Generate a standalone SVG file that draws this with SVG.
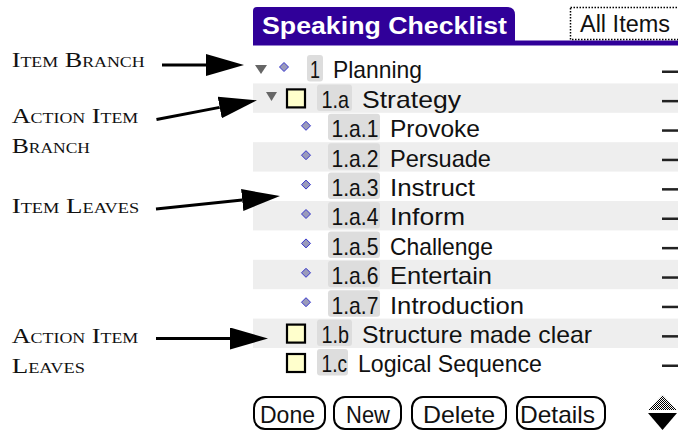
<svg xmlns="http://www.w3.org/2000/svg" width="678" height="431" viewBox="0 0 678 431">
<style>
.lbl{font-family:"Liberation Serif","Times New Roman",serif;font-size:22px;font-variant:small-caps;fill:#111}
.t{font-family:"Liberation Sans",Arial,sans-serif;font-size:24px;fill:#111}
.band{fill:#eeeeee}
.badge{fill:#dddddd}
.dash{fill:#222}
.dia{fill:#9a9abb;stroke:#3535cc;stroke-width:1}
.chk{fill:#ffffcc;stroke:#000;stroke-width:2.2}
.tri{fill:#666}
.btn{fill:#fff;stroke:#000;stroke-width:2}
.conn{fill:none;stroke:#000;stroke-width:3}
</style>
<defs>
<marker id="ah" markerUnits="userSpaceOnUse" markerWidth="40" markerHeight="24" refX="0" refY="11" orient="auto">
<path d="M0,0 L38,11 L0,22 Z" fill="#000"/>
</marker>
<pattern id="dither" width="2" height="2" patternUnits="userSpaceOnUse">
<rect width="2" height="2" fill="#fff"/>
<rect width="1" height="1" fill="#000"/>
<rect x="1" y="1" width="1" height="1" fill="#000"/>
</pattern>
</defs>
<rect width="678" height="431" fill="#fff"/>

<g id="header">
<path d="M253,41 L253,11 Q253,7 257,7 L507,7 Q515,7 515,15 L515,41 Z" fill="#300099"/>
<rect x="253" y="40.5" width="425" height="5" fill="#300099"/>
<text x="262" y="33.5" style="font-family:'Liberation Sans',Arial,sans-serif;font-size:23px;font-weight:bold;fill:#fff" textLength="245" lengthAdjust="spacingAndGlyphs">Speaking Checklist</text>
</g>
<g id="all-items">
<rect x="570.5" y="7.5" width="110" height="32" fill="#fff" stroke="#000" stroke-width="1.5" stroke-dasharray="1.5 1.5"/>
<text x="580" y="32" class="t" style="font-size:23px" textLength="90" lengthAdjust="spacingAndGlyphs">All Items</text>
</g>

<g id="bands">
<rect class="band" x="253" y="83.4" width="425" height="29.4"/>
<rect class="band" x="253" y="142.2" width="425" height="29.4"/>
<rect class="band" x="253" y="201" width="425" height="29.4"/>
<rect class="band" x="253" y="259.8" width="425" height="29.4"/>
<rect class="band" x="253" y="318.6" width="425" height="29.4"/>
</g>

<g id="row-1">
<path class="tri" d="M255,65 L267,65 L261,74 Z"/>
<path class="dia" d="M284,62.5 L288.5,67 L284,71.5 L279.5,67 Z"/>
<rect class="badge" x="307" y="55" width="16" height="26.5" rx="3"/>
<text class="t" x="310" y="78.3" textLength="10" lengthAdjust="spacingAndGlyphs">1</text>
<text class="t" x="333" y="78.3" textLength="89" lengthAdjust="spacingAndGlyphs">Planning</text>
<rect class="dash" x="662" y="70.5" width="16" height="2.5"/>
</g>
<g id="row-1a">
<path class="tri" d="M266,92 L277,92 L271.5,101 Z"/>
<rect class="chk" x="287" y="89.4" width="18" height="18"/>
<rect class="badge" x="317" y="84.4" width="35" height="26.5" rx="3"/>
<text class="t" x="321.5" y="107.7" textLength="27.5" lengthAdjust="spacingAndGlyphs">1.a</text>
<text class="t" x="362" y="107.7" textLength="99" lengthAdjust="spacingAndGlyphs">Strategy</text>
<rect class="dash" x="662" y="99.9" width="16" height="2.5"/>
</g>
<g id="row-1a1">
<path class="dia" d="M306,121.3 L310.5,125.8 L306,130.3 L301.5,125.8 Z"/>
<rect class="badge" x="328" y="113.8" width="52" height="26.5" rx="3"/>
<text class="t" x="331.5" y="137.1" textLength="47" lengthAdjust="spacingAndGlyphs">1.a.1</text>
<text class="t" x="390" y="137.1" textLength="90" lengthAdjust="spacingAndGlyphs">Provoke</text>
<rect class="dash" x="662" y="129.3" width="16" height="2.5"/>
</g>
<g id="row-1a2">
<path class="dia" d="M306,150.7 L310.5,155.2 L306,159.7 L301.5,155.2 Z"/>
<rect class="badge" x="328" y="143.2" width="52" height="26.5" rx="3"/>
<text class="t" x="331.5" y="166.5" textLength="47" lengthAdjust="spacingAndGlyphs">1.a.2</text>
<text class="t" x="390" y="166.5" textLength="101" lengthAdjust="spacingAndGlyphs">Persuade</text>
<rect class="dash" x="662" y="158.7" width="16" height="2.5"/>
</g>
<g id="row-1a3">
<path class="dia" d="M306,180.1 L310.5,184.6 L306,189.1 L301.5,184.6 Z"/>
<rect class="badge" x="328" y="172.6" width="52" height="26.5" rx="3"/>
<text class="t" x="331.5" y="195.9" textLength="47" lengthAdjust="spacingAndGlyphs">1.a.3</text>
<text class="t" x="390" y="195.9" textLength="85" lengthAdjust="spacingAndGlyphs">Instruct</text>
<rect class="dash" x="662" y="188.1" width="16" height="2.5"/>
</g>
<g id="row-1a4">
<path class="dia" d="M306,209.5 L310.5,214 L306,218.5 L301.5,214 Z"/>
<rect class="badge" x="328" y="202" width="52" height="26.5" rx="3"/>
<text class="t" x="331.5" y="225.3" textLength="47" lengthAdjust="spacingAndGlyphs">1.a.4</text>
<text class="t" x="390" y="225.3" textLength="75" lengthAdjust="spacingAndGlyphs">Inform</text>
<rect class="dash" x="662" y="217.5" width="16" height="2.5"/>
</g>
<g id="row-1a5">
<path class="dia" d="M306,238.9 L310.5,243.4 L306,247.9 L301.5,243.4 Z"/>
<rect class="badge" x="328" y="231.4" width="52" height="26.5" rx="3"/>
<text class="t" x="331.5" y="254.7" textLength="47" lengthAdjust="spacingAndGlyphs">1.a.5</text>
<text class="t" x="390" y="254.7" textLength="103" lengthAdjust="spacingAndGlyphs">Challenge</text>
<rect class="dash" x="662" y="246.9" width="16" height="2.5"/>
</g>
<g id="row-1a6">
<path class="dia" d="M306,268.3 L310.5,272.8 L306,277.3 L301.5,272.8 Z"/>
<rect class="badge" x="328" y="260.8" width="52" height="26.5" rx="3"/>
<text class="t" x="331.5" y="284.1" textLength="47" lengthAdjust="spacingAndGlyphs">1.a.6</text>
<text class="t" x="390" y="284.1" textLength="102" lengthAdjust="spacingAndGlyphs">Entertain</text>
<rect class="dash" x="662" y="276.3" width="16" height="2.5"/>
</g>
<g id="row-1a7">
<path class="dia" d="M306,297.7 L310.5,302.2 L306,306.7 L301.5,302.2 Z"/>
<rect class="badge" x="328" y="290.2" width="52" height="26.5" rx="3"/>
<text class="t" x="331.5" y="313.5" textLength="47" lengthAdjust="spacingAndGlyphs">1.a.7</text>
<text class="t" x="390" y="313.5" textLength="134" lengthAdjust="spacingAndGlyphs">Introduction</text>
<rect class="dash" x="662" y="305.7" width="16" height="2.5"/>
</g>
<g id="row-1b">
<rect class="chk" x="287" y="324.6" width="18" height="18"/>
<rect class="badge" x="317" y="319.6" width="35" height="26.5" rx="3"/>
<text class="t" x="321.5" y="342.9" textLength="27.5" lengthAdjust="spacingAndGlyphs">1.b</text>
<text class="t" x="362" y="342.9" textLength="230" lengthAdjust="spacingAndGlyphs">Structure made clear</text>
<rect class="dash" x="662" y="335.1" width="16" height="2.5"/>
</g>
<g id="row-1c">
<rect class="chk" x="287" y="354" width="18" height="18"/>
<rect class="badge" x="317" y="349" width="31" height="26.5" rx="3"/>
<text class="t" x="321.5" y="372.3" textLength="25.5" lengthAdjust="spacingAndGlyphs">1.c</text>
<text class="t" x="358" y="372.3" textLength="184" lengthAdjust="spacingAndGlyphs">Logical Sequence</text>
<rect class="dash" x="662" y="364.5" width="16" height="2.5"/>
</g>

<g id="buttons">
<rect class="btn" x="254" y="397" width="71" height="32" rx="11"/>
<text class="t" x="260" y="423" textLength="55" lengthAdjust="spacingAndGlyphs">Done</text>
<rect class="btn" x="334" y="397" width="67" height="32" rx="11"/>
<text class="t" x="346" y="423" textLength="44" lengthAdjust="spacingAndGlyphs">New</text>
<rect class="btn" x="412" y="397" width="94" height="32" rx="11"/>
<text class="t" x="423" y="423" textLength="72" lengthAdjust="spacingAndGlyphs">Delete</text>
<rect class="btn" x="517" y="397" width="88" height="32" rx="11"/>
<text class="t" x="520" y="423" textLength="75" lengthAdjust="spacingAndGlyphs">Details</text>
</g>
<g id="scroll">
<path d="M648,410 L677,410 L662.5,395 Z" fill="url(#dither)"/>
<path d="M648,413 L677,413 L662.5,430 Z" fill="#000"/>
</g>

<g id="label-item-branch"><text class="lbl" x="11.7" y="66.7" textLength="133" lengthAdjust="spacingAndGlyphs">Item Branch</text></g>
<g id="label-action-item-branch">
<text class="lbl" x="11.7" y="123.3" textLength="126.6" lengthAdjust="spacingAndGlyphs">Action Item</text>
<text class="lbl" x="11.7" y="152.7" textLength="78.3" lengthAdjust="spacingAndGlyphs">Branch</text>
</g>
<g id="label-item-leaves"><text class="lbl" x="11.7" y="213.3" textLength="127.6" lengthAdjust="spacingAndGlyphs">Item Leaves</text></g>
<g id="label-action-item-leaves">
<text class="lbl" x="11.7" y="342.7" textLength="126.6" lengthAdjust="spacingAndGlyphs">Action Item</text>
<text class="lbl" x="11.7" y="372.7" textLength="73.3" lengthAdjust="spacingAndGlyphs">Leaves</text>
</g>

<g id="connectors">
<path class="conn" d="M162,65 L206,65" marker-end="url(#ah)"/>
<path class="conn" d="M156.5,119.5 L219.7,107.4" marker-end="url(#ah)"/>
<path class="conn" d="M156,209 L242.2,200" marker-end="url(#ah)"/>
<path class="conn" d="M156,338.5 L230,338.5" marker-end="url(#ah)"/>
</g>
</svg>
